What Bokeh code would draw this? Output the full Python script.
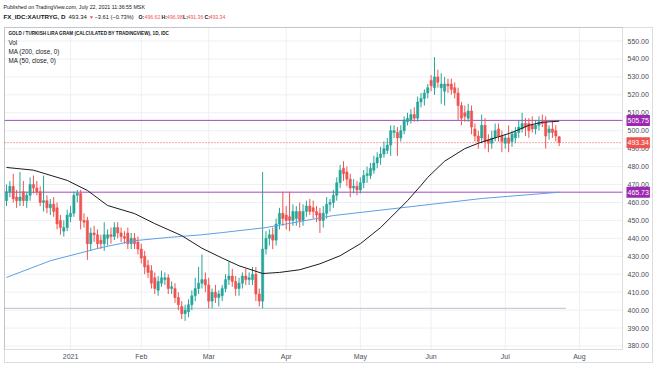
from bokeh.plotting import figure
from bokeh.models import (Range1d, FixedTicker, Label, BoxAnnotation,
                          ColumnDataSource, PrintfTickFormatter)
from bokeh.embed import file_html
from bokeh.resources import INLINE

# ---------------- data (daily bars, index 0 = 7 Dec 2020 ... 164 = 22 Jul 2021) -------------
opens = [461, 466, 469, 463, 461, 466, 461, 464, 470, 468,
         466, 460, 461, 457, 459, 457, 450, 444, 446, 452,
         454, 464, 465, 450, 450, 437, 443, 442, 439, 437,
         440, 442, 441, 446, 443, 441, 443, 437, 440, 438,
         434, 430, 425, 422, 418, 411, 415, 417, 418, 412,
         412, 407, 402, 398, 399, 403, 408, 412, 415, 417,
         414, 405, 410, 407, 408, 412, 417, 419, 416, 412,
         415, 419, 417, 417, 420, 409, 405, 434, 440, 442,
         439, 448, 454, 453, 452, 450, 451, 455, 450, 455,
         458, 457, 455, 454, 450, 454, 459, 460, 464, 471,
         479, 477, 473, 468, 469, 467, 471, 475, 475, 478,
         482, 485, 487, 489, 492, 499, 499, 496, 500, 505,
         506, 509, 507, 516, 518, 521, 528, 524, 530, 524,
         522, 526, 526, 524, 521, 514, 510, 507, 511, 501,
         497, 496, 503, 495, 493, 496, 501, 497, 493, 496,
         494, 496, 499, 501, 504, 504, 503, 501, 503, 505,
         505, 499, 501, 500, 496.62]
highs = [470, 472, 476, 467, 477, 472, 466, 474, 475, 472,
         469, 475, 464, 462, 463, 460, 453, 450, 456, 458,
         466, 467, 467, 454, 452, 446, 447, 445, 442, 449,
         445, 446, 449, 449, 446, 444, 446, 443, 443, 441,
         437, 433, 428, 425, 421, 419, 422, 421, 420, 416,
         415, 410, 405, 403, 406, 411, 418, 424, 431, 421,
         418, 412, 414, 411, 414, 420, 427, 423, 419, 418,
         421, 423, 421, 424, 424, 412, 477, 444, 445, 446,
         451, 457, 466, 458, 466, 459, 458, 460, 459, 461,
         462, 461, 458, 457, 458, 463, 462, 467, 474, 481,
         483, 480, 476, 473, 472, 474, 478, 480, 482, 486,
         488, 491, 494, 496, 503, 503, 502, 503, 508, 510,
         512, 513, 519, 521, 523, 526, 531, 541, 534, 532,
         530, 529, 529, 527, 524, 516, 514, 515, 514, 504,
         500, 509, 507, 498, 500, 504, 504, 500, 498, 503,
         500, 502, 506, 510, 507, 507, 508, 506, 508, 509,
         508, 503, 505, 503, 496.98]
lows = [458, 463, 460, 457, 458, 458, 457, 461, 465, 464,
        458, 455, 454, 453, 452, 445, 442, 441, 444, 449,
        452, 460, 445, 446, 428, 433, 438, 434, 434, 433,
        436, 437, 439, 440, 438, 437, 434, 434, 434, 431,
        426, 420, 418, 412, 409, 408, 413, 414, 409, 409,
        404, 400, 395, 394, 396, 400, 405, 409, 412, 410,
        401, 401, 404, 402, 405, 410, 414, 413, 408, 408,
        412, 414, 414, 414, 405, 402, 401, 431, 436, 434,
        436, 445, 447, 445, 444, 447, 447, 446, 447, 452,
        453, 451, 449, 443, 446, 451, 455, 457, 461, 468,
        472, 469, 463, 465, 464, 465, 468, 471, 473, 476,
        479, 481, 485, 487, 486, 496, 486, 494, 498, 503,
        504, 505, 505, 513, 514, 518, 522, 520, 524, 515,
        514, 521, 520, 518, 506, 503, 505, 505, 498, 494,
        490, 493, 490, 488, 490, 494, 494, 488, 490, 488,
        491, 493, 496, 499, 497, 496, 499, 498, 500, 502,
        490, 495, 496, 494, 491.36]
closes = [466, 469, 462, 461, 463, 461, 464, 470, 468, 466,
          460, 461, 457, 459, 455, 448, 446, 446, 453, 454,
          464, 465, 450, 449, 437, 443, 442, 437, 437, 442,
          442, 441, 446, 443, 441, 440, 437, 440, 437, 434,
          429, 424, 421, 415, 412, 416, 418, 418, 412, 413,
          407, 403, 398, 400, 403, 408, 412, 415, 417, 414,
          405, 410, 407, 409, 412, 417, 419, 416, 412, 415,
          419, 417, 418, 420, 409, 405, 434, 440, 442, 439,
          448, 454, 451, 450, 450, 455, 455, 450, 455, 458,
          455, 455, 453, 450, 454, 459, 460, 464, 471, 478,
          476, 473, 468, 469, 467, 471, 475, 476, 479, 482,
          485, 487, 490, 492, 500, 500, 496, 500, 506, 507,
          509, 507, 516, 518, 521, 524, 525, 530, 527, 526,
          526, 525, 523, 521, 514, 507, 508, 511, 502, 497,
          494, 503, 494, 493, 496, 500, 497, 494, 496, 493,
          498, 499, 502, 504, 502, 500, 501, 503, 505, 504,
          497, 501, 499, 497, 493.34]

# moving averages (bar index, value)
ma50_idx = [0, 8, 18, 24, 30, 38, 44, 52, 58, 64, 69, 76, 81, 87, 93, 99,
            105, 111, 117, 119, 123, 125, 130, 136, 140, 145, 150, 155, 159, 164]
ma50_val = [479.5, 478.0, 472.3, 466.7, 458.3, 453.8, 448.2, 441.5, 434.5, 429.0,
            424.7, 420.4, 421.0, 422.5, 425.8, 430.3, 437.0, 446.0, 457.2, 461.0,
            469.5, 474.0, 483.0, 490.0, 493.0, 496.0, 499.0, 503.0, 504.7, 505.3]
ma200_idx = [0, 13, 28, 38, 48, 58, 64, 77, 97, 123, 141, 164]
ma200_val = [418.2, 427.5, 434.8, 438.7, 440.5, 442.0, 443.2, 446.0, 452.7, 458.3, 462.2, 465.7]

# horizontal drawings
h_levels = [505.75, 465.73]
last_price = 493.34
ray_level = 401.0
ray_end = 166

month_ticks = [19, 40, 60, 83, 105, 126, 148, 170]
month_labels = ["2021", "Feb", "Mar", "Apr", "May", "Jun", "Jul", "Aug"]
price_ticks = [380, 390, 400, 410, 420, 430, 440, 450, 460, 470, 480,
               490, 500, 510, 520, 530, 540, 550]

# ---------------- geometry / styling ----------------
W, H = 654, 366
BAR_PX, BAR0_PX = 3.37, 6.0          # horizontal scale: px per bar, px of first bar
UNIT_PX, P550_PX = 1.794, 40.5       # vertical scale: px per price unit, px of 550
PANE_L, PANE_R, PANE_T, PANE_B = 4, 622, 27, 349   # price pane in canvas px
OUT_R, OUT_B = 652, 362                              # outer chart border


def x_at(px):
    return (px - BAR0_PX) / BAR_PX


def y_at(py):
    return 550 - (py - P550_PX) / UNIT_PX


UP = "#26a69a"
DOWN = "#ef5350"
PURPLE_LINE = "#a24bbf"
PURPLE_BOX = "#9c27b0"
TXT = "#131722"
AX = "#4a4e59"
GRID = "#eef0f4"
FRAME = "#8c909a"
FONT = "Liberation Sans"

p = figure(width=W, height=H, output_backend="svg", toolbar_location=None,
           x_range=Range1d(x_at(0), x_at(W)), y_range=Range1d(y_at(H), y_at(0)),
           y_axis_location="right", min_border=0,
           min_border_left=0, min_border_right=0, min_border_top=0, min_border_bottom=0)
p.background_fill_color = "white"
p.border_fill_color = "white"
p.outline_line_color = None
p.grid.visible = False

xl, xr = x_at(PANE_L), x_at(PANE_R)
yb, yt = y_at(PANE_B), y_at(PANE_T)

# grid
p.segment(x0=month_ticks, y0=[yb] * len(month_ticks), x1=month_ticks, y1=[yt] * len(month_ticks),
          line_color=GRID, line_width=1)
p.segment(x0=[xl] * len(price_ticks), y0=price_ticks, x1=[xr] * len(price_ticks), y1=price_ticks,
          line_color=GRID, line_width=1)

# axes drawn at the pane edges
xa = p.xaxis[0]
xa.fixed_location = yb
xa.ticker = FixedTicker(ticks=month_ticks)
xa.major_label_overrides = {t: l for t, l in zip(month_ticks, month_labels)}
xa.axis_line_color = None
xa.major_tick_line_color = None
xa.minor_tick_line_color = None
xa.major_tick_out = 0
xa.major_tick_in = 0
xa.minor_tick_out = 0
xa.minor_tick_in = 0
xa.major_label_text_font = FONT
xa.major_label_text_font_size = "7px"
xa.major_label_text_color = AX
xa.major_label_standoff = 3

ya = p.yaxis[0]
ya.fixed_location = xr
ya.ticker = FixedTicker(ticks=price_ticks)
ya.formatter = PrintfTickFormatter(format="%.2f")
ya.axis_line_color = None
ya.major_tick_line_color = None
ya.minor_tick_line_color = None
ya.major_tick_out = 0
ya.major_tick_in = 0
ya.minor_tick_out = 0
ya.minor_tick_in = 0
ya.major_label_text_font = FONT
ya.major_label_text_font_size = "7px"
ya.major_label_text_color = AX
ya.major_label_standoff = 5

# horizontal drawings
p.segment(x0=[xl], y0=[ray_level], x1=[ray_end], y1=[ray_level], line_color="#b9c0cc", line_width=1)
p.segment(x0=[xl] * len(h_levels), y0=h_levels, x1=[xr] * len(h_levels), y1=h_levels,
          line_color=PURPLE_LINE, line_width=1)
p.segment(x0=[xl], y0=[last_price], x1=[xr], y1=[last_price], line_color=DOWN,
          line_width=1, line_dash="1 2")

# ---------------- candles ----------------
n = len(closes)
up_i = [i for i in range(n) if closes[i] >= opens[i]]
dn_i = [i for i in range(n) if closes[i] < opens[i]]
for ids, col in ((up_i, UP), (dn_i, DOWN)):
    src = ColumnDataSource(dict(x=ids, o=[opens[i] for i in ids], c=[closes[i] for i in ids],
                                h=[highs[i] for i in ids], l=[lows[i] for i in ids]))
    p.segment(x0="x", y0="l", x1="x", y1="h", source=src, line_color=col, line_width=1)
    p.vbar(x="x", top="o", bottom="c", width=0.68, source=src,
           fill_color=col, line_color=col, line_width=0.5)

p.line(ma200_idx, ma200_val, line_color="#5d9fe6", line_width=1)
p.line(ma50_idx, ma50_val, line_color="#1c1c1c", line_width=1)

# ---------------- frame lines ----------------
for (l, r, t, b) in ((PANE_L, OUT_R, PANE_T, OUT_B), (PANE_L, PANE_R, PANE_T, PANE_B)):
    p.add_layout(BoxAnnotation(left=l, right=r, top=H - t, bottom=H - b,
                               left_units="screen", right_units="screen",
                               top_units="screen", bottom_units="screen",
                               fill_alpha=0, line_color=FRAME, line_width=1))


# ---------------- price boxes on the axis ----------------
def price_box(val, bg):
    p.add_layout(Label(x=PANE_R + 4, y=val, x_units="screen", y_units="data",
                       text=f"{val:.2f}", text_color="white", text_font=FONT,
                       text_font_size="7px", text_baseline="middle", text_align="left",
                       background_fill_color=bg, padding=(1, 3)))


for lv in h_levels:
    price_box(lv, PURPLE_BOX)
price_box(last_price, DOWN)


# ---------------- texts ----------------
def txt(px, py, s, color=TXT, bold=False, size="6px"):
    p.add_layout(Label(x=px, y=H - py, x_units="screen", y_units="screen",
                       text=s, text_color=color, text_font=FONT, text_font_size=size,
                       text_font_style="bold" if bold else "normal",
                       text_baseline="middle", text_align="left"))


txt(3, 6, "Published on TradingView.com, July 22, 2021 11:36:55 MSK", size="5.3px")
txt(3, 16, "FX_IDC:XAUTRYG, D", bold=True, size="6.2px")
txt(68, 16, "493.34", size="6px")
txt(88.5, 16, "\u25bc", color=DOWN, size="5px")
txt(94, 16, "\u22123.61 (\u22120.73%)", size="5.7px")
txt(138, 16, "O:", bold=True, size="5.2px")
txt(144, 16, "496.62", color=DOWN, size="5.2px")
txt(161, 16, "H:", bold=True, size="5.2px")
txt(166.5, 16, "496.98", color=DOWN, size="5.2px")
txt(182.5, 16, "L:", bold=True, size="5.2px")
txt(187, 16, "491.36", color=DOWN, size="5.2px")
txt(204, 16, "C:", bold=True, size="5.2px")
txt(209, 16, "493.34", color=DOWN, size="5.2px")

txt(8, 33, "GOLD / TURKISH LIRA GRAM (CALCULATED BY TRADINGVIEW), 1D, IDC", bold=True, size="4.6px")
txt(8, 42, "Vol", size="6.3px")
txt(8, 51, "MA (200, close, 0)", size="6.3px")
txt(8, 60, "MA (50, close, 0)", size="6.3px")

open("out.html", "w").write(file_html(p, INLINE))
